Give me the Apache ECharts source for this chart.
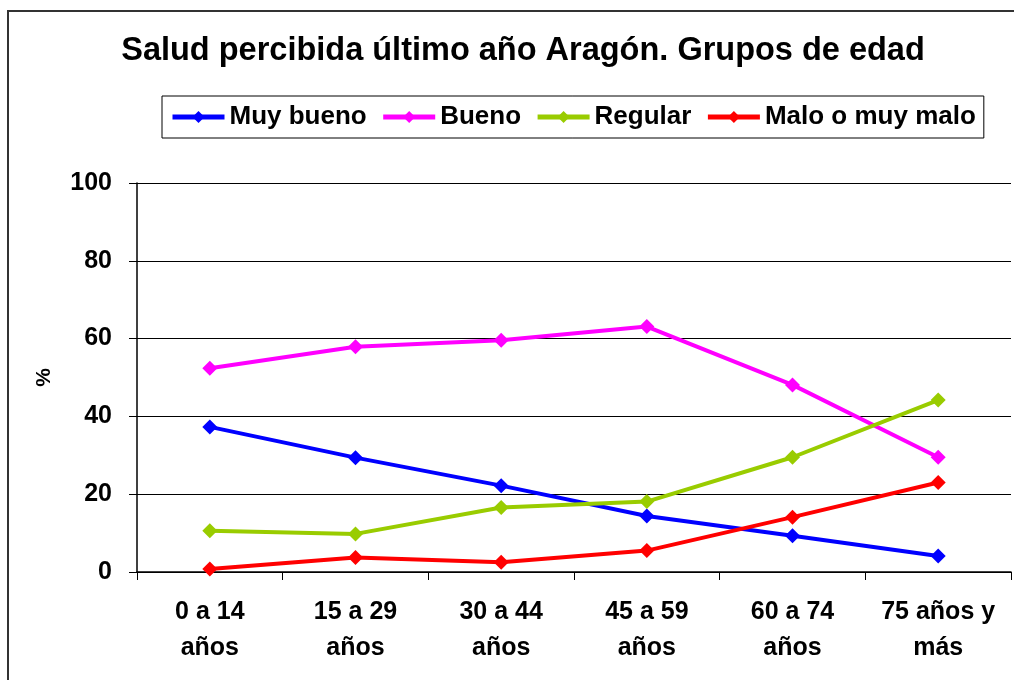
<!DOCTYPE html>
<html>
<head>
<meta charset="utf-8">
<script src="https://cdn.jsdelivr.net/npm/echarts@6/dist/echarts.min.js"></script>
<style>
html, body { margin: 0; padding: 0; background: #fff; }
#chart { width: 1014px; height: 680px; }
</style>
</head>
<body>
<div id="chart"></div>
<script>
// datos
const categories = ['0 a 14\naños', '15 a 29\naños', '30 a 44\naños', '45 a 59\naños', '60 a 74\naños', '75 años y\nmás'];
const muyBueno = [37.3, 29.4, 22.2, 14.4, 9.3, 4.1];
const bueno = [52.4, 57.9, 59.6, 63.1, 48.1, 29.5];
const regular = [10.6, 9.8, 16.6, 18.1, 29.5, 44.2];
const malo = [0.8, 3.7, 2.5, 5.5, 14.1, 23.0];
const yTicks = [0, 20, 40, 60, 80, 100];

const font = 'Arial, "Liberation Sans", sans-serif';
const chart = echarts.init(document.getElementById('chart'));

// cada serie con su color
const makeSerie = (name, data, color) => ({
    name: name,
    type: 'line',
    data: data,
    symbol: 'diamond',
    symbolSize: 15,
    lineStyle: { width: 4, color: color },
    itemStyle: { color: color },
    emphasis: { disabled: true },
    animation: false
});

const option = {
    backgroundColor: '#fff',
    textStyle: { fontFamily: font },
    title: {
        text: 'Salud percibida último año Aragón. Grupos de edad',
        left: 518,
        textAlign: 'center',
        top: 30,
        textStyle: { fontSize: 32.5, fontWeight: 'bold', color: '#000', fontFamily: font }
    },
    legend: {
        left: 162,
        top: 96,
        width: 830,
        padding: [8, 8, 8, 8],
        borderColor: '#000',
        borderWidth: 1,
        itemWidth: 52,
        itemHeight: 15,
        itemGap: 14,
        lineStyle: { width: 5 },
        textStyle: { fontSize: 26, fontWeight: 'bold', color: '#000', fontFamily: font },
        data: ['Muy bueno', 'Bueno', 'Regular', 'Malo o muy malo']
    },
    graphic: [{
        type: 'rect',
        shape: { x: 8, y: 11, width: 1100, height: 800 },
        style: { fill: null, stroke: '#333', lineWidth: 2 },
        silent: true
    }],
    grid: { left: 137, right: 3, top: 183, bottom: 108 },
    xAxis: {
        type: 'category',
        data: categories,
        boundaryGap: true,
        axisLine: { lineStyle: { color: '#000', width: 1.5 } },
        axisTick: { show: true, length: 8, lineStyle: { color: '#000' } },
        axisLabel: {
            interval: 0,
            margin: 22,
            fontSize: 25,
            fontWeight: 'bold',
            color: '#000',
            lineHeight: 36,
            fontFamily: font
        }
    },
    yAxis: {
        type: 'value',
        min: yTicks[0],
        max: yTicks[yTicks.length - 1],
        interval: 20,
        name: '%',
        nameLocation: 'middle',
        nameGap: 82,
        nameRotate: 90,
        nameTextStyle: { fontSize: 21, fontWeight: 'bold', color: '#000', fontFamily: font },
        axisLine: { show: true, lineStyle: { color: '#000', width: 1.5 } },
        axisTick: { show: true, length: 8, lineStyle: { color: '#000' } },
        splitLine: { lineStyle: { color: '#000', width: 1 } },
        axisLabel: { margin: 25, fontSize: 25, fontWeight: 'bold', color: '#000', fontFamily: font }
    },
    series: [
        makeSerie('Muy bueno', muyBueno, '#0000ff'),
        makeSerie('Bueno', bueno, '#ff00ff'),
        makeSerie('Regular', regular, '#99cc00'),
        makeSerie('Malo o muy malo', malo, '#ff0000')
    ]
};

chart.setOption(option);
</script>
</body>
</html>
